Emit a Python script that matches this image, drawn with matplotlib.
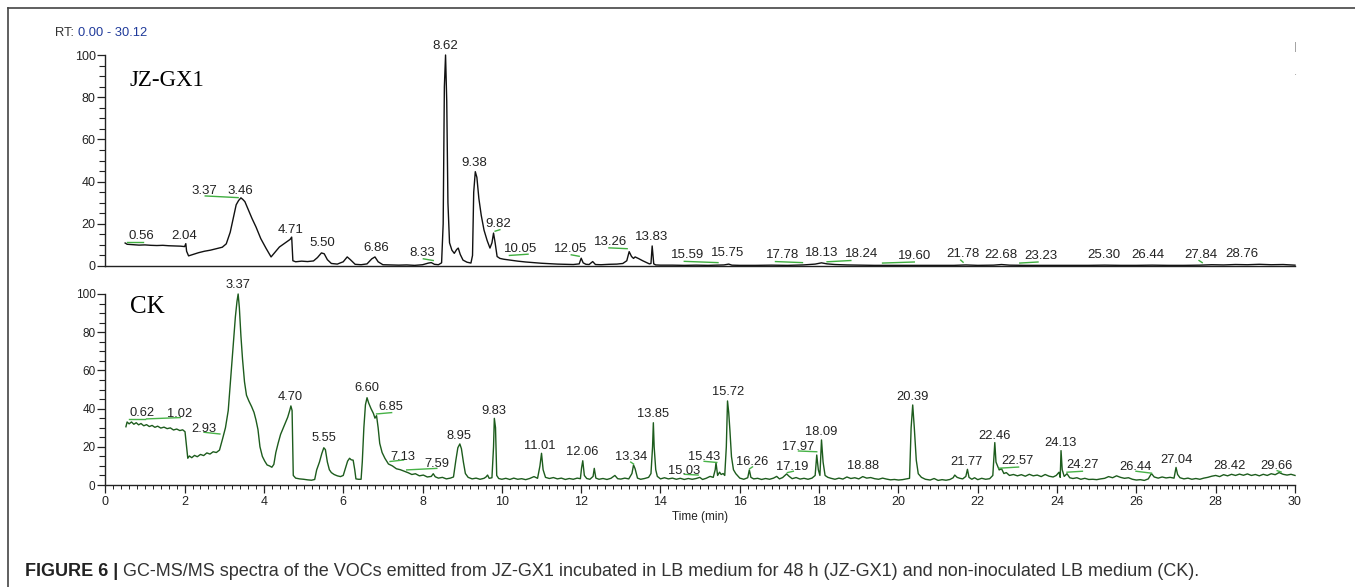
import matplotlib
matplotlib.use('Agg')

import matplotlib.pyplot as plt
from matplotlib.ticker import MultipleLocator
from matplotlib.lines import Line2D

# ---- JZ-GX1 chromatogram (time in min, relative abundance %) ----
jz_t = [0.50, 0.55, 0.70, 0.85, 1.00, 1.15, 1.30, 1.45, 1.60, 1.75,
        1.90, 2.00, 2.03, 2.05, 2.10, 2.20, 2.35, 2.50, 2.65, 2.80,
        2.95, 3.05, 3.15, 3.22, 3.30, 3.36, 3.42, 3.47, 3.52, 3.60,
        3.70, 3.80, 3.92, 4.05, 4.18, 4.28, 4.39, 4.50, 4.60, 4.66,
        4.70, 4.73, 4.80, 4.95, 5.10, 5.25, 5.35, 5.45, 5.52, 5.60,
        5.70, 5.85, 6.00, 6.10, 6.18, 6.30, 6.45, 6.60, 6.72, 6.80,
        6.88, 7.00, 7.20, 7.40, 7.60, 7.80, 8.00, 8.15, 8.22, 8.30,
        8.40, 8.48, 8.52, 8.55, 8.58, 8.61, 8.64, 8.68, 8.74, 8.80,
        8.86, 8.90, 8.95, 9.02, 9.12, 9.22, 9.26, 9.29, 9.33, 9.37,
        9.42, 9.48, 9.55, 9.63, 9.70, 9.75, 9.79, 9.83, 9.88, 9.95,
        10.05, 10.20, 10.40, 10.60, 10.80, 11.00, 11.20, 11.40, 11.60, 11.80,
        11.95, 12.00, 12.05, 12.12, 12.20, 12.29, 12.36, 12.50, 12.70, 12.90,
        13.05, 13.15, 13.21, 13.27, 13.32, 13.36, 13.45, 13.55, 13.65, 13.72,
        13.76, 13.79, 13.83, 13.88, 14.00, 14.30, 14.60, 14.90, 15.20, 15.45,
        15.60, 15.72, 15.80, 16.00, 16.40, 16.80, 17.20, 17.60, 17.90, 18.06,
        18.20, 18.40, 18.70, 19.00, 19.40, 19.80, 20.20, 20.60, 21.00, 21.40,
        21.70, 22.00, 22.40, 22.60, 22.80, 23.20, 23.60, 24.00, 24.40, 24.80,
        25.20, 25.60, 26.00, 26.40, 26.80, 27.20, 27.60, 27.90, 28.20, 28.50,
        28.80, 29.10, 29.40, 29.70, 30.00]
jz_v = [10.9, 10.3, 10.1, 9.9, 10.0, 9.8, 9.7, 9.8, 9.6, 9.5,
        9.4, 9.2, 10.6, 7.0, 4.8, 5.4, 6.3, 7.0, 7.5, 8.2,
        8.9, 10.5, 16.0, 22.0, 29.0, 31.0, 32.3, 31.5, 30.5, 27.0,
        22.5, 18.5, 13.0, 8.5, 4.3, 6.5, 9.0, 10.5, 11.8, 12.6,
        13.7, 2.5, 2.0, 2.3, 2.1, 2.4, 4.0, 6.2, 5.8, 3.0,
        1.2, 0.9, 2.0, 4.3, 3.0, 0.8, 0.6, 1.0, 3.4, 4.3,
        2.0, 0.6, 0.5, 0.4, 0.5, 0.3, 0.6, 1.4, 1.6, 0.8,
        0.6, 1.5, 20.0, 85.0, 100.0, 78.0, 30.0, 11.0, 7.5, 6.0,
        7.8, 8.5, 5.5, 2.8, 1.8, 1.4, 5.0, 35.0, 44.7, 42.0,
        32.0, 24.0, 17.0, 12.0, 8.5, 11.0, 15.6, 11.0, 4.5, 3.6,
        3.2, 2.8, 2.3, 1.9, 1.6, 1.3, 1.1, 0.9, 0.8, 0.7,
        1.0, 3.7, 1.5, 0.8, 0.7, 2.1, 0.7, 0.6, 0.8, 0.9,
        1.2, 2.5, 6.8, 4.5, 3.6, 4.3, 3.5, 2.5, 1.6, 1.0,
        1.2, 9.5, 1.0, 0.5, 0.4, 0.4, 0.3, 0.4, 0.3, 0.4,
        0.5, 0.9, 0.4, 0.3, 0.3, 0.4, 0.3, 0.5, 0.9, 1.5,
        1.0, 0.7, 0.5, 0.4, 0.3, 0.3, 0.3, 0.3, 0.3, 0.3,
        0.5, 0.3, 0.4, 0.7, 0.4, 0.3, 0.3, 0.3, 0.3, 0.3,
        0.4, 0.3, 0.3, 0.4, 0.3, 0.3, 0.4, 0.6, 0.5, 0.7,
        0.6, 0.8, 0.6, 0.7, 0.4]

# peak labels (text, time, height)
jz_lab = ['0.56', '2.04', '3.37', '3.46', '4.71', '5.50', '6.86', '8.33', '8.62', '9.38',
          '9.82', '10.05', '12.05', '13.26', '13.83', '15.59', '15.75', '17.78', '18.13', '18.24',
          '19.60', '21.78', '22.68', '23.23', '25.30', '26.44', '27.84', '28.76']
jz_lab_t = [0.92, 2.00, 2.49, 3.41, 4.67, 5.48, 6.82, 7.98, 8.56, 9.30,
            9.91, 10.47, 11.74, 12.75, 13.78, 14.68, 15.68, 17.08, 18.06, 19.06,
            20.40, 21.62, 22.58, 23.59, 25.18, 26.30, 27.62, 28.65]
jz_lab_v = [14.2, 14.2, 35.7, 35.7, 17.0, 10.8, 8.4, 6.0, 104.4, 48.7,
            19.7, 7.9, 7.9, 11.5, 13.6, 5.1, 6.0, 5.1, 6.3, 5.6,
            4.8, 5.5, 5.2, 4.8, 5.2, 5.2, 5.2, 5.7]

# green integration marks (t start, t end, v start, v end)
jz_mk_t0 = [0.54, 2.52, 8.02, 9.83, 10.19, 11.75, 12.70, 14.60, 16.90, 18.20, 19.60, 21.57, 23.06, 27.58]
jz_mk_t1 = [0.96, 3.35, 8.27, 9.95, 10.66, 11.95, 13.16, 15.45, 17.58, 18.80, 20.40, 21.63, 23.52, 27.66]
jz_mk_v0 = [11.2, 33.2, 3.4, 16.5, 5.0, 5.3, 8.6, 2.2, 2.1, 2.0, 1.4, 2.8, 1.4, 2.6]
jz_mk_v1 = [11.2, 32.4, 2.6, 17.2, 5.6, 4.6, 8.2, 1.6, 1.6, 2.6, 1.9, 1.8, 1.9, 1.6]

# ---- CK chromatogram ----
ck_t = [0.52, 0.55, 0.60, 0.66, 0.72, 0.78, 0.84, 0.90, 0.97, 1.04,
        1.11, 1.18, 1.25, 1.32, 1.40, 1.48, 1.56, 1.64, 1.72, 1.80,
        1.88, 1.95, 2.01, 2.05, 2.08, 2.12, 2.18, 2.25, 2.32, 2.40,
        2.48, 2.56, 2.64, 2.72, 2.80, 2.88, 2.96, 3.03, 3.10, 3.17,
        3.23, 3.28, 3.32, 3.35, 3.38, 3.42, 3.46, 3.51, 3.56, 3.62,
        3.69, 3.75, 3.80, 3.85, 3.90, 3.96, 4.02, 4.08, 4.14, 4.20,
        4.25, 4.30, 4.36, 4.42, 4.48, 4.54, 4.60, 4.65, 4.68, 4.71,
        4.74, 4.80, 4.90, 5.00, 5.10, 5.20, 5.28, 5.33, 5.40, 5.46,
        5.51, 5.55, 5.60, 5.65, 5.70, 5.77, 5.85, 5.93, 6.00, 6.06,
        6.11, 6.16, 6.20, 6.25, 6.29, 6.32, 6.38, 6.45, 6.48, 6.52,
        6.56, 6.60, 6.64, 6.70, 6.76, 6.80, 6.84, 6.88, 6.92, 6.98,
        7.05, 7.14, 7.24, 7.34, 7.44, 7.54, 7.64, 7.73, 7.82, 7.92,
        8.02, 8.12, 8.22, 8.27, 8.32, 8.40, 8.50, 8.60, 8.70, 8.78,
        8.84, 8.89, 8.94, 8.98, 9.03, 9.08, 9.15, 9.25, 9.35, 9.45,
        9.55, 9.60, 9.64, 9.68, 9.75, 9.79, 9.81, 9.84, 9.87, 9.92,
        10.00, 10.10, 10.20, 10.30, 10.40, 10.50, 10.60, 10.70, 10.81, 10.90,
        10.96, 11.00, 11.04, 11.10, 11.20, 11.30, 11.40, 11.50, 11.60, 11.70,
        11.80, 11.90, 11.98, 12.01, 12.04, 12.08, 12.14, 12.22, 12.30, 12.33,
        12.37, 12.45, 12.55, 12.65, 12.75, 12.85, 12.92, 13.00, 13.10, 13.20,
        13.28, 13.32, 13.36, 13.42, 13.50, 13.60, 13.70, 13.76, 13.80, 13.82,
        13.84, 13.88, 13.92, 14.00, 14.10, 14.20, 14.30, 14.40, 14.50, 14.60,
        14.70, 14.80, 14.90, 14.99, 15.06, 15.15, 15.25, 15.33, 15.38, 15.40,
        15.44, 15.49, 15.53, 15.58, 15.62, 15.66, 15.69, 15.72, 15.75, 15.79,
        15.84, 15.90, 16.00, 16.10, 16.20, 16.24, 16.28, 16.35, 16.45, 16.55,
        16.65, 16.75, 16.85, 16.93, 17.00, 17.08, 17.14, 17.18, 17.24, 17.32,
        17.42, 17.52, 17.62, 17.72, 17.82, 17.90, 17.94, 17.98, 18.02, 18.06,
        18.10, 18.15, 18.22, 18.30, 18.40, 18.50, 18.60, 18.70, 18.80, 18.90,
        19.00, 19.10, 19.20, 19.30, 19.40, 19.50, 19.60, 19.70, 19.80, 19.90,
        20.00, 20.10, 20.20, 20.28, 20.32, 20.36, 20.40, 20.45, 20.50, 20.58,
        20.68, 20.80, 20.90, 21.00, 21.10, 21.20, 21.30, 21.38, 21.42, 21.48,
        21.55, 21.62, 21.70, 21.74, 21.78, 21.85, 21.92, 22.00, 22.10, 22.20,
        22.30, 22.38, 22.43, 22.46, 22.50, 22.54, 22.60, 22.66, 22.72, 22.80,
        22.90, 23.00, 23.10, 23.20, 23.30, 23.40, 23.50, 23.60, 23.70, 23.80,
        23.90, 23.98, 24.05, 24.08, 24.10, 24.13, 24.18, 24.25, 24.32, 24.40,
        24.50, 24.60, 24.70, 24.80, 24.90, 25.00, 25.10, 25.20, 25.30, 25.40,
        25.50, 25.60, 25.70, 25.80, 25.90, 26.00, 26.10, 26.20, 26.30, 26.38,
        26.45, 26.55, 26.65, 26.75, 26.85, 26.95, 27.00, 27.04, 27.10, 27.20,
        27.30, 27.40, 27.50, 27.60, 27.70, 27.80, 27.90, 28.00, 28.10, 28.20,
        28.30, 28.40, 28.50, 28.60, 28.70, 28.80, 28.90, 29.00, 29.10, 29.20,
        29.30, 29.40, 29.50, 29.60, 29.70, 29.80, 29.90, 30.00]
ck_v = [30.5, 33.0, 32.0, 33.0, 31.8, 32.6, 31.5, 32.2, 31.0, 31.6,
        30.6, 31.2, 30.2, 30.8, 29.8, 30.3, 29.5, 29.9, 28.8, 29.3,
        28.5, 28.9, 27.9, 20.0, 14.0, 15.2, 14.3, 15.5, 14.8, 16.0,
        15.4, 16.8, 16.2, 17.4, 17.0, 18.3, 24.4, 30.0, 39.0, 58.0,
        75.0, 88.0, 96.0, 100.0, 93.0, 78.0, 66.0, 54.0, 47.0, 44.0,
        41.0, 38.0, 34.0, 29.0, 20.0, 15.0, 12.5, 10.5, 10.0, 9.3,
        10.8, 17.0, 22.0, 26.5, 29.5, 32.5, 35.5, 39.0, 41.4, 39.0,
        5.0, 3.6, 3.2, 3.0, 2.7, 2.5, 2.9, 7.9, 12.0, 16.5,
        19.5, 18.5, 12.0, 8.0, 6.5, 5.5, 4.8, 4.4, 5.0, 9.0,
        12.5, 14.0, 13.2, 13.0, 8.0, 3.2, 3.0, 3.0, 12.0, 30.0,
        42.0, 45.7, 43.0, 40.0, 37.5, 35.0, 36.3, 30.0, 21.8, 17.0,
        14.0, 11.0, 10.0, 8.5, 8.0, 7.2, 6.4, 5.5, 5.9, 4.8,
        5.2, 4.2, 4.5, 5.9, 4.3, 3.6, 4.0, 3.2, 3.6, 4.2,
        13.0, 19.5, 21.5, 19.0, 12.0, 6.0, 4.0, 3.2, 3.6, 3.0,
        3.5, 4.2, 5.2, 3.5, 3.8, 20.0, 34.9, 30.0, 5.0, 3.4,
        3.0, 3.5, 2.9, 3.6, 3.0, 3.3, 2.8, 3.4, 4.4, 3.5,
        10.0, 16.6, 8.0, 4.0, 3.4, 3.9, 3.2, 3.6, 2.9, 3.4,
        3.0, 3.6, 3.3, 9.0, 12.7, 5.0, 3.4, 3.0, 4.5, 8.7,
        3.6, 3.0, 3.4, 2.9, 3.5, 5.0, 3.3, 3.1, 3.6, 3.2,
        6.0, 10.5, 8.5, 3.6, 3.0, 3.4, 4.0, 6.0, 20.0, 32.6,
        20.0, 8.0, 4.5, 3.2, 3.8, 3.2, 3.6, 3.0, 3.5, 2.9,
        3.4, 3.0, 3.4, 4.0, 2.9, 3.5, 4.5, 4.0, 8.0, 11.7,
        5.0, 6.7, 5.5, 6.0, 5.0, 20.0, 44.0, 38.0, 28.8, 14.8,
        8.0, 5.9, 3.6, 3.0, 3.8, 7.9, 4.0, 3.2, 3.5, 2.9,
        3.4, 3.0, 3.6, 4.5, 3.2, 3.9, 5.0, 5.8, 4.6, 3.3,
        3.9, 3.1, 3.5, 3.0, 3.6, 5.0, 15.7, 8.0, 5.0, 23.6,
        12.0, 5.0, 4.0, 3.5, 3.0, 3.6, 3.1, 4.2, 3.4, 3.8,
        3.2, 4.4, 3.6, 3.9, 3.3, 3.0, 3.6, 3.1, 2.7, 2.9,
        2.6, 2.8, 3.2, 3.5, 30.0, 41.9, 30.0, 13.0, 5.9, 4.0,
        3.0, 2.6, 3.4, 2.4, 2.8, 2.5, 2.9, 3.8, 5.2, 4.0,
        3.5, 3.2, 4.5, 8.2, 4.0, 3.0, 3.8, 2.8, 3.5, 3.0,
        3.3, 5.0, 22.2, 12.0, 10.0, 7.9, 8.5, 6.0, 6.5, 5.0,
        5.5, 4.8, 5.4, 4.6, 5.6, 4.8, 5.2, 4.4, 5.5, 4.6,
        4.2, 5.0, 6.7, 4.0, 18.0, 8.0, 4.5, 5.9, 3.8, 3.4,
        3.8, 3.0, 3.5, 2.9, 3.0, 2.8, 3.2, 3.5, 4.4, 3.8,
        4.8, 4.0, 3.5, 3.8, 3.0, 2.6, 2.8, 2.4, 3.2, 6.0,
        4.2, 3.6, 4.2, 3.7, 4.0, 3.6, 9.2, 5.5, 3.8, 3.2,
        3.6, 3.0, 3.4, 3.0, 3.6, 4.0, 4.6, 5.0, 4.4, 5.4,
        4.8, 5.6, 5.0, 5.7, 5.1, 5.8, 5.0, 5.5, 4.8, 5.6,
        5.0, 5.9, 5.4, 6.5, 5.6, 5.2, 5.6, 5.0]

ck_lab = ['0.62', '1.02', '2.93', '3.37', '4.70', '5.55', '6.60', '6.85', '7.13', '7.59',
          '8.95', '9.83', '11.01', '12.06', '13.34', '13.85', '15.03', '15.43', '15.72', '16.26',
          '17.19', '17.97', '18.09', '18.88', '20.39', '21.77', '22.46', '22.57', '24.13', '24.27',
          '26.44', '27.04', '28.42', '29.66']
ck_lab_t = [0.92, 1.88, 2.49, 3.34, 4.67, 5.52, 6.59, 7.20, 7.50, 8.36,
            8.93, 9.81, 10.96, 12.03, 13.26, 13.82, 14.59, 15.10, 15.71, 16.31,
            17.32, 17.46, 18.06, 19.10, 20.36, 21.72, 22.43, 23.00, 24.09, 24.63,
            25.98, 27.00, 28.36, 29.54]
ck_lab_v = [37.5, 37.0, 29.2, 104.7, 45.9, 24.4, 50.6, 40.7, 14.8, 11.0,
            25.7, 38.9, 20.6, 17.4, 14.5, 37.2, 7.5, 14.5, 48.5, 11.9,
            9.3, 20.0, 27.9, 9.9, 45.9, 12.0, 25.8, 12.6, 22.2, 10.5,
            9.3, 13.1, 9.9, 9.9]

ck_mk_t0 = [0.60, 1.04, 2.49, 6.84, 7.18, 7.60, 13.25, 14.60, 15.10, 16.25, 17.20, 17.48, 22.54, 24.25, 25.99, 29.55]
ck_mk_t1 = [1.00, 1.89, 2.89, 7.22, 7.52, 8.36, 13.32, 14.95, 15.42, 16.32, 17.35, 17.94, 23.03, 24.64, 26.38, 29.65]
ck_mk_v0 = [34.5, 34.6, 27.6, 37.2, 12.3, 7.9, 12.0, 5.6, 12.4, 8.5, 6.5, 17.8, 8.8, 6.7, 7.2, 7.5]
ck_mk_v1 = [34.5, 35.3, 26.7, 37.9, 13.1, 8.7, 11.0, 5.2, 11.8, 9.5, 7.2, 17.4, 9.4, 7.2, 6.2, 6.8]

plt.rcParams['font.family'] = ['Liberation Sans', 'DejaVu Sans']

W, H = 1355, 587
fig = plt.figure(figsize=(W / 100, H / 100), dpi=100)

x0, x1 = 105.3, 1295.0
ax_top = fig.add_axes([x0 / W, 1 - 266 / H, (x1 - x0) / W, (266 - 55) / H])
ax_bot = fig.add_axes([x0 / W, 1 - 485 / H, (x1 - x0) / W, (485 - 294) / H])


def setup(ax, tick_size):
    ax.set_xlim(0, 30)
    ax.set_ylim(0, 100)
    for s in ['top', 'right']:
        ax.spines[s].set_visible(False)
    for s in ['left', 'bottom']:
        ax.spines[s].set_linewidth(1.0)
        ax.spines[s].set_color('#222222')
    ax.yaxis.set_major_locator(MultipleLocator(20))
    ax.yaxis.set_minor_locator(MultipleLocator(5))
    ax.tick_params(axis='y', which='major', length=6, width=0.9, labelsize=tick_size,
                   colors='#222222', pad=1)
    ax.tick_params(axis='y', which='minor', length=4, width=0.8, colors='#222222')
    ax.patch.set_alpha(0)


setup(ax_top, 9)
ax_top.tick_params(axis='x', which='both', bottom=False, labelbottom=False)

setup(ax_bot, 8.5)
ax_bot.xaxis.set_major_locator(MultipleLocator(2))
ax_bot.xaxis.set_minor_locator(MultipleLocator(0.2))
ax_bot.tick_params(axis='x', which='major', length=6, width=0.9, labelsize=9,
                   colors='#222222', pad=2)
ax_bot.tick_params(axis='x', which='minor', length=3, width=0.7, colors='#222222')
ax_bot.set_xlabel('Time (min)', fontsize=8.5, color='#222222', labelpad=2)

# traces
ax_top.plot(jz_t, jz_v, color='#111111', lw=1.0, clip_on=False)
ax_bot.plot(ck_t, ck_v, color='#1d5c1d', lw=1.0, clip_on=False)

for a, b, c, d in zip(jz_mk_t0, jz_mk_t1, jz_mk_v0, jz_mk_v1):
    ax_top.plot([a, b], [c, d], color='#3fae3f', lw=1.0)
for a, b, c, d in zip(ck_mk_t0, ck_mk_t1, ck_mk_v0, ck_mk_v1):
    ax_bot.plot([a, b], [c, d], color='#47b247', lw=1.0)

for s, t, v in zip(jz_lab, jz_lab_t, jz_lab_v):
    ax_top.text(t, v, s, ha='center', va='center', fontsize=9.5, color='#222222', clip_on=False)
for s, t, v in zip(ck_lab, ck_lab_t, ck_lab_v):
    ax_bot.text(t, v, s, ha='center', va='center', fontsize=9.3, color='#222222', clip_on=False)

ax_top.text(0.62, 88, 'JZ-GX1', fontsize=16.5, family='Liberation Serif', va='center', ha='left')
ax_bot.text(0.62, 93, 'CK', fontsize=18, family='Liberation Serif', va='center', ha='left')

# stray marks at the right of the top panel
ax_top.text(30.02, 104, '|', fontsize=8, color='#999999', ha='center', va='center', clip_on=False)
ax_top.text(30.02, 92, '.', fontsize=8, color='#999999', ha='center', va='center', clip_on=False)

# RT header
t1 = fig.text(55 / W, 1 - 33 / H, 'RT: ', fontsize=9.3, color='#333333', va='center')
fig.canvas.draw()
r = fig.canvas.get_renderer()
bb = t1.get_window_extent(r)
fig.text(bb.x1 / W, 1 - 33 / H, '0.00 - 30.12', fontsize=9.3, color='#1f3a9a', va='center')

# frame lines
fig.add_artist(Line2D([8 / W, 8 / W], [0, 1 - 8 / H], color='#444444', lw=1.2))
fig.add_artist(Line2D([8 / W, 1], [1 - 8 / H, 1 - 8 / H], color='#444444', lw=1.2))

# caption
c1 = fig.text(25 / W, 1 - 572 / H, 'FIGURE 6 |', fontsize=13, fontweight='bold',
              color='#222222', va='center')
bb = c1.get_window_extent(r)
fig.text((bb.x1 + 5) / W, 1 - 572 / H,
         'GC-MS/MS spectra of the VOCs emitted from JZ-GX1 incubated in LB medium for 48 h '
         '(JZ-GX1) and non-inoculated LB medium (CK).',
         fontsize=13, color='#333333', va='center')

fig.savefig('out.png', dpi=100)
